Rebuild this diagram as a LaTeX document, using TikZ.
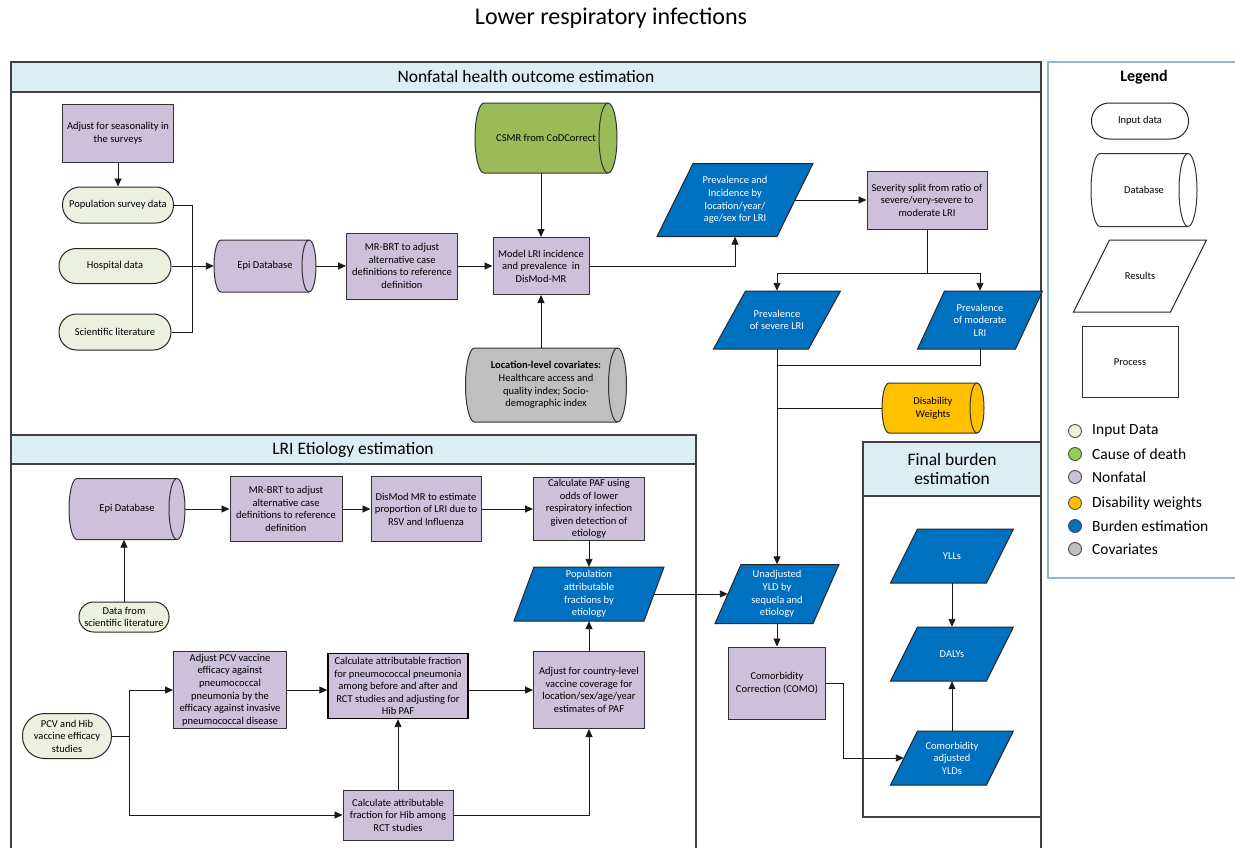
\documentclass[tikz,border=0pt]{standalone}
\usepackage{fontspec}
\setmainfont{Carlito}
\usetikzlibrary{arrows.meta}
\definecolor{inpc}{HTML}{EBF1DE}
\definecolor{nfc}{HTML}{CCC0DA}
\definecolor{bluec}{HTML}{0070C0}
\definecolor{greenc}{HTML}{9BBB59}
\definecolor{grayc}{HTML}{BFBFBF}
\definecolor{orangec}{HTML}{FFC000}
\definecolor{headc}{HTML}{DAEEF3}
\definecolor{codc}{HTML}{92D050}
\definecolor{legc}{HTML}{95B3D7}
\definecolor{framec}{HTML}{404040}
\definecolor{linec}{HTML}{1A1A1A}

\tikzset{
  base/.style={font=\fontsize{10.5}{12.6}\selectfont, align=center, inner sep=1pt},
  sz/.style 2 args={minimum width=#1pt, minimum height=#2pt},
  proc/.style={base, rectangle, draw=black!80, line width=1pt, fill=nfc},
  inp/.style={base, rectangle, draw=black!85, line width=1pt, fill=inpc},
  stad/.style 2 args={inp, minimum width=#1pt, minimum height=#2pt, rounded corners={#2*0.49pt}},
  dbshape/.style={draw=black!80, line width=1pt},
  dbline/.style={draw=black!80, line width=1pt},
  dbtext/.style={base, rectangle, draw=none},
  resshape/.style={draw=black!85, line width=1pt, fill=bluec},
  restext/.style={base, rectangle, draw=none, text=white},
  conn/.style={draw=linec, line width=0.9pt},
  arrow/.style={conn, -{Triangle[length=8pt,width=7pt]}},
  frame/.style={draw=framec, line width=1.2pt},
  headtxt/.style={font=\fontsize{17.5}{19.5}\selectfont, align=center, inner sep=0pt},
  legdot/.style={circle, draw=black!70, line width=0.9pt, minimum size=13pt, inner sep=0pt},
  legtxt/.style={anchor=west, font=\fontsize{15.5}{18}\selectfont, inner sep=0pt},
}

% cylinder lying on its side: [style]{name}{cx}{cy}{w}{h}{r}{text}
\newcommand\cyl[8][]{%
  \pgfmathsetmacro\cylL{#3-#5/2}%
  \pgfmathsetmacro\cylR{#3+#5/2}%
  \pgfmathsetmacro\cylT{#4-#6/2}%
  \pgfmathsetmacro\cylB{#4+#6/2}%
  \pgfmathsetmacro\cylKa{0.5523*#7}%
  \pgfmathsetmacro\cylKb{0.5523*#6/2}%
  \path[dbshape,#1] ({\cylL+#7},\cylT) -- ({\cylR-#7},\cylT)
    .. controls ({\cylR-#7+\cylKa},\cylT) and (\cylR,{#4-\cylKb}) .. (\cylR,#4)
    .. controls (\cylR,{#4+\cylKb}) and ({\cylR-#7+\cylKa},\cylB) .. ({\cylR-#7},\cylB)
    -- ({\cylL+#7},\cylB)
    .. controls ({\cylL+#7-\cylKa},\cylB) and (\cylL,{#4+\cylKb}) .. (\cylL,#4)
    .. controls (\cylL,{#4-\cylKb}) and ({\cylL+#7-\cylKa},\cylT) .. ({\cylL+#7},\cylT) -- cycle;
  \draw[dbline] ({\cylR-#7},\cylT)
    .. controls ({\cylR-#7-\cylKa},\cylT) and ({\cylR-2*#7},{#4-\cylKb}) .. ({\cylR-2*#7},#4)
    .. controls ({\cylR-2*#7},{#4+\cylKb}) and ({\cylR-#7-\cylKa},\cylB) .. ({\cylR-#7},\cylB);
  \node[dbtext, minimum width=#5pt, minimum height=#6pt] (#2) at (#3,#4) {#8};
}

% parallelogram: [style]{name}{cx}{cy}{w}{h}{slant}{text}
\newcommand\paral[8][]{%
  \path[resshape,#1] ({#3-#5/2-#7/2},{#4+#6/2}) -- ({#3+#5/2-#7/2},{#4+#6/2})
    -- ({#3+#5/2+#7/2},{#4-#6/2}) -- ({#3-#5/2+#7/2},{#4-#6/2}) -- cycle;
  \node[restext, minimum width=#5pt, minimum height=#6pt] (#2) at (#3,#4) {#8};
}

\begin{document}
\begin{tikzpicture}[x=1pt, y=-1pt]
\useasboundingbox (0,0) rectangle (1235,847);
\fill[white] (0,0) rectangle (1235,847);

% title
\node[font=\fontsize{24}{28}\selectfont, inner sep=0pt] (title) at (611,18) {Lower respiratory infections};

% ---------- frames ----------
\draw[frame] (11,62) rectangle (1041,880);
\filldraw[frame, fill=headc] (11,62) rectangle (1041,92);
\node[headtxt] (h1) at (526,76) {Nonfatal health outcome estimation};

\draw[frame] (11,435) rectangle (696,880);
\filldraw[frame, fill=headc] (11,435) rectangle (696,464);
\node[headtxt] (h2) at (353,450) {LRI Etiology estimation};

\filldraw[frame, fill=white] (863,442) rectangle (1041,817);
\filldraw[frame, fill=headc] (863,442) rectangle (1041,496);
\node[headtxt] (h3) at (952,469) {Final burden\\estimation};

\filldraw[draw=legc, line width=1.2pt, fill=white] (1048,62) rectangle (1260,578);

% ---------- nonfatal nodes ----------
\node[proc, sz={111}{58}] (seas) at (118,133) {Adjust for seasonality in\\the surveys};
\node[stad={111}{36}] (pop) at (118,205) {Population survey data};
\node[stad={112}{35}] (hosp) at (115,266) {Hospital data};
\node[stad={112}{36}] (sci) at (115,332) {Scientific literature};
\cyl[fill=nfc]{epi1}{265}{266}{102}{52}{7}{Epi Database}
\node[proc, sz={111}{66}] (mrbrt1) at (402,266) {MR-BRT to adjust\\alternative case\\definitions to reference\\definition};
\node[proc, sz={96}{57}] (model) at (541,266) {Model LRI incidence\\and prevalence~~in\\DisMod-MR};
\cyl[fill=greenc]{csmr}{546}{138}{142}{70}{9}{CSMR from CoDCorrect}
\cyl[fill=grayc]{cov}{546}{385}{161}{74}{9}{\textbf{Location-level covariates:}\\Healthcare access and\\quality index; Socio-\\demographic index}
\paral{previnc}{735}{200}{120}{73}{36}{Prevalence and\\Incidence by\\location/year/\\age/sex for LRI}
\node[proc, sz={120}{58}] (sevsplit) at (927,200) {Severity split from ratio of\\severe/very-severe to\\moderate LRI};
\paral{prevsev}{777}{320}{95}{58}{32}{Prevalence\\of severe LRI}
\paral{prevmod}{980}{320}{98}{58}{27}{Prevalence\\of moderate\\LRI}
\cyl[fill=orangec]{dw}{933}{408}{102}{50}{7}{Disability\\Weights}
\paral{unadj}{777}{594}{98}{59}{26}{Unadjusted\\YLD by\\sequela and\\etiology}
\node[proc, sz={97}{72}] (como) at (777,683) {Comorbidity\\Correction (COMO)};
\paral{ylls}{952}{556}{96}{54}{27}{YLLs}
\paral{dalys}{952}{654}{96}{54}{27}{DALYs}
\paral{comadj}{952}{758}{96}{54}{27}{Comorbidity\\adjusted\\YLDs}

% ---------- etiology nodes ----------
\cyl[fill=nfc]{epi2}{127}{509}{116}{61}{8}{Epi Database}
\node[proc, sz={112}{65}] (mrbrt2) at (286,509) {MR-BRT to adjust\\alternative case\\definitions to reference\\definition};
\node[proc, sz={110}{65}] (dismod) at (426,509) {DisMod MR to estimate\\proportion of LRI due to\\RSV and Influenza};
\node[proc, sz={111}{63}] (pafcalc) at (589,509) {Calculate PAF using\\odds of lower\\respiratory infection\\given detection of\\etiology};
\paral{popaf}{589}{594}{130}{54}{20}{Population\\attributable\\fractions by\\etiology}
\node[stad={90}{30}] (datasci) at (124,617) {Data from\\scientific literature};
\node[proc, sz={113}{77}] (pcvadj) at (230,690) {Adjust PCV vaccine\\efficacy against\\pneumococcal\\pneumonia by the\\efficacy against invasive\\pneumococcal disease};
\node[proc, sz={140}{65}, line width=1.3pt, draw=black] (pneucalc) at (398,686) {Calculate attributable fraction\\for pneumococcal pneumonia\\among before and after and\\RCT studies and adjusting for\\Hib PAF};
\node[proc, sz={111}{77}] (country) at (589,690) {Adjust for country-level\\vaccine coverage for\\location/sex/age/year\\estimates of PAF};
\node[stad={89}{45}] (pcvhib) at (67,736) {PCV and Hib\\vaccine efficacy\\studies};
\node[proc, sz={110}{50}] (hib) at (398,815) {Calculate attributable\\fraction for Hib among\\RCT studies};

% ---------- legend ----------
\node[font=\bfseries\fontsize{16}{19}\selectfont, inner sep=0pt] (legt) at (1144,77) {Legend};
\node[stad={97}{36}, fill=white] (lg1) at (1140,121) {Input data};
\cyl[fill=white]{lg2}{1144}{190}{106}{73}{9}{Database}
\paral[fill=white]{lg3}{1140}{276}{97}{72}{36}{\color{black}Results}
\node[proc, fill=white, sz={96}{71}] (lg4) at (1130,362) {Process};
\node[legdot, fill=inpc] (d1) at (1075,431) {};
\node[legdot, fill=codc] (d2) at (1075,454) {};
\node[legdot, fill=nfc] (d3) at (1075,477) {};
\node[legdot, fill=orangec] (d4) at (1075,503) {};
\node[legdot, fill=bluec] (d5) at (1075,526) {};
\node[legdot, fill=grayc] (d6) at (1075,549) {};
\node[legtxt] (t1) at (1092,431) {Input Data};
\node[legtxt] (t2) at (1092,454) {Cause of death};
\node[legtxt] (t3) at (1092,477) {Nonfatal};
\node[legtxt] (t4) at (1092,503) {Disability weights};
\node[legtxt] (t5) at (1092,526) {Burden estimation};
\node[legtxt] (t6) at (1092,549) {Covariates};

% ---------- nonfatal connectors ----------
\draw[arrow] (seas.south) -- (pop.north);
\coordinate (m1) at (192,266);
\draw[conn] (pop.east) -| (m1);
\draw[conn] (sci.east) -| (m1);
\draw[arrow] (hosp.east) -- (epi1.west);
\draw[arrow] (epi1.east) -- (mrbrt1.west);
\draw[arrow] (mrbrt1.east) -- (model.west);
\draw[arrow] (model.north |- csmr.south) -- (model.north);
\draw[arrow] (model.south |- cov.north) -- (model.south);
\draw[arrow] (model.east) -| (previnc.south);
\draw[arrow] (previnc.east) -- (sevsplit.west);
\coordinate (s1) at (927,273);
\draw[conn] (sevsplit.south) -- (s1);
\draw[arrow] (s1) -| (prevsev.north);
\draw[arrow] (s1) -| (prevmod.north);
\coordinate (j2) at (777,365);
\draw[conn] (prevmod.south) |- (j2);
\coordinate (j3) at (777,408);
\draw[conn] (dw.west) -- (j3);
\draw[arrow] (prevsev.south) -- (unadj.north);
\draw[arrow] (popaf.east) -- (unadj.west);
\draw[arrow] (unadj.south) -- (como.north);
\coordinate (c1) at (843,683);
\draw[arrow] (como.east) -- (c1) |- (comadj.west);
\draw[arrow] (ylls.south) -- (dalys.north);
\draw[arrow] (comadj.north) -- (dalys.south);

% ---------- etiology connectors ----------
\draw[arrow] (epi2.east) -- (mrbrt2.west);
\draw[arrow] (mrbrt2.east) -- (dismod.west);
\draw[arrow] (dismod.east) -- (pafcalc.west);
\draw[arrow] (datasci.north) -- (datasci.north |- epi2.south);
\draw[arrow] (pafcalc.south) -- (popaf.north);
\coordinate (p1) at (129,736);
\draw[conn] (pcvhib.east) -- (p1);
\draw[arrow] (p1) |- (pcvadj.west);
\draw[arrow] (p1) |- (hib.west);
\draw[arrow] (pcvadj.east) -- (pneucalc.west |- pcvadj.east);
\draw[arrow] (pneucalc.east |- country.west) -- (country.west);
\draw[arrow] (hib.north) -- (pneucalc.south);
\draw[arrow] (hib.east) -| (country.south);
\draw[arrow] (country.north) -- (popaf.south);
\end{tikzpicture}
\end{document}
